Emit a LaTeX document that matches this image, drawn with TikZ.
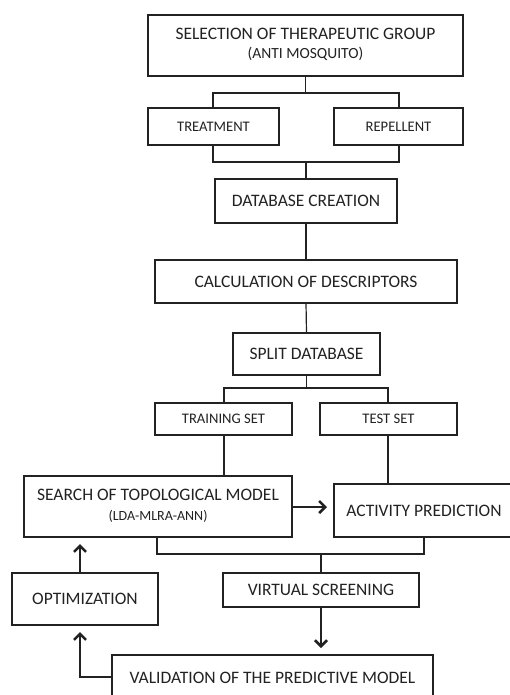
\documentclass[tikz,border=0pt]{standalone}
\usepackage{fontspec}
\setmainfont{Carlito}
\usetikzlibrary{arrows.meta,calc}
\definecolor{ink}{HTML}{222222}
\tikzset{
  box/.style={draw=ink, line width=1.4pt, anchor=north west, inner sep=0pt, outer sep=0pt, align=center, text=ink, font=\fontsize{17.5}{20}\selectfont},
  smallbox/.style={box, font=\fontsize{14.6}{17}\selectfont},
  link/.style={draw=ink, line width=1.2pt},
  arr/.style={link, -{Straight Barb[length=6pt,width=12pt,line width=2.6pt]}, shorten >=7pt},
}
\begin{document}
\begin{tikzpicture}[x=1pt,y=-1pt]
\useasboundingbox (0,0) rectangle (510,695);
\clip (0,0) rectangle (510,695);
\fill[white] (0,0) rectangle (510,695);
% boxes
\node[box, minimum width=315, minimum height=61] (top) at (148,15)
  {\raisebox{-3pt}{\begin{tabular}{@{}c@{}}SELECTION OF THERAPEUTIC GROUP\\[-1pt]{\fontsize{15.5}{17}\selectfont (ANTI MOSQUITO)}\end{tabular}}};
\node[smallbox, minimum width=131, minimum height=37] (treat) at (148,108) {TREATMENT};
\node[smallbox, minimum width=129, minimum height=37] (rep) at (334,108) {REPELLENT};
\node[box, minimum width=182, minimum height=44] (db) at (215,179) {DATABASE CREATION};
\node[box, minimum width=302, minimum height=43] (calc) at (155,260) {CALCULATION OF DESCRIPTORS};
\node[box, minimum width=147, minimum height=42] (split) at (233,333) {SPLIT DATABASE};
\node[smallbox, minimum width=137, minimum height=32] (train) at (155,403) {TRAINING SET};
\node[smallbox, minimum width=137, minimum height=32] (test) at (320,403) {TEST SET};
\node[box, minimum width=268, minimum height=61] (search) at (24,476)
  {\raisebox{-3pt}{\begin{tabular}{@{}c@{}}SEARCH OF TOPOLOGICAL MODEL\\[0pt]{\fontsize{14}{16}\selectfont (LDA-MLRA-ANN)}\end{tabular}}};
\node[box, minimum width=180, minimum height=53] (act) at (334,484) {ACTIVITY PREDICTION};
\node[box, minimum width=146, minimum height=52] (opt) at (12,573) {OPTIMIZATION};
\node[box, minimum width=196, minimum height=34] (vs) at (223,573) {VIRTUAL SCREENING};
\node[box, minimum width=321, minimum height=46] (val) at (112,655) {VALIDATION OF THE PREDICTIVE MODEL};
% junction coordinates
\coordinate (b1l) at (213,93);  \coordinate (b1r) at (399,93);
\coordinate (b2l) at (213,162); \coordinate (b2r) at (399,162);
\coordinate (b3l) at (224,388); \coordinate (b3r) at (388,388);
\coordinate (b4l) at (157,554); \coordinate (b4r) at (424,554);
\coordinate (vx) at (321,554);
\coordinate (lx) at (80,677);
% connectors
\draw[link] (top.south) -- (top.south |- b1l);
\draw[link] (treat.north -| b1l) |- (b1r) -- (rep.north -| b1r);
\draw[link] (treat.south -| b2l) |- (b2r) -- (rep.south -| b2r);
\draw[link] (db.north |- b2l) -- (db.north);
\draw[link] (db.south) -- (calc.north);
\draw[link] (calc.south) -- (split.north);
\draw[link] (split.south) -- (split.south |- b3l);
\draw[link] (train.north -| b3l) |- (b3r) -- (test.north -| b3r);
\draw[link] (train.south -| b3l) -- (search.north -| b3l);
\draw[link] (test.south -| b3r) -- (act.north -| b3r);
\draw[arr] (search.east |- 0,507) -- (act.west |- 0,507);
\draw[link] (search.south -| b4l) |- (b4r) -- (act.south -| b4r);
\draw[link] (vx) -- (vs.north -| vx);
\draw[arr] (vs.south -| vx) -- (val.north -| vx);
\draw[arr] (val.west |- lx) -| (opt.south -| lx);
\draw[arr] (opt.north -| lx) -- (search.south -| lx);
\end{tikzpicture}
\end{document}
